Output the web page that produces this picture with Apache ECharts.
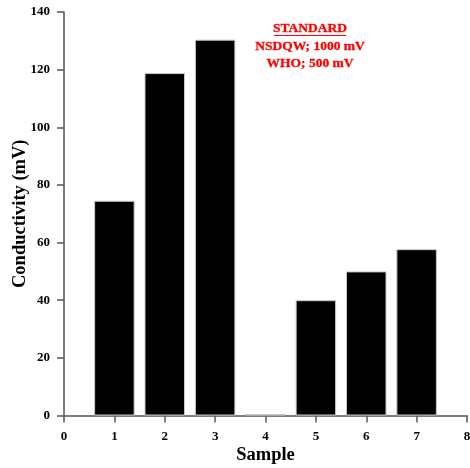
<!DOCTYPE html>
<html><head><meta charset="utf-8">
<script src="https://cdn.jsdelivr.net/npm/echarts@6/dist/echarts.min.js"></script>
<style>html,body{margin:0;padding:0;background:#fff}#c{width:470px;height:468px}</style>
</head><body><div id="c"></div>
<script>
const samples = [1, 2, 3, 4, 5, 6, 7];
const conductivity = [74.5, 118.8, 130.4, 0.5, 40.0, 50.0, 57.7];
const xTicks = [0, 1, 2, 3, 4, 5, 6, 7, 8];
const yTicks = [0, 20, 40, 60, 80, 100, 120, 140];
const noteLines = ['STANDARD', 'NSDQW; 1000 mV', 'WHO; 500 mV'];

const F = '"Liberation Serif","Times New Roman",serif';
const chart = echarts.init(document.getElementById('c'));
chart.setOption({
  animation: false,
  grid: { left: 64, right: 3, top: 12, bottom: 52.5, containLabel: false, outerBoundsMode: 'none' },
  xAxis: {
    type: 'value', min: xTicks[0], max: xTicks[xTicks.length - 1], interval: 1,
    name: 'Sample', nameLocation: 'middle', nameGap: 30, nameMoveOverlap: false,
    nameTextStyle: { fontFamily: F, fontWeight: 'bold', fontSize: 18.5, color: '#000' },
    axisLine: { onZero: false, lineStyle: { color: '#555', width: 1.5 } },
    axisTick: { show: true, inside: false, length: 7, lineStyle: { color: '#555', width: 1.5 } },
    axisLabel: { fontFamily: F, fontWeight: 'bold', fontSize: 13, color: '#000', margin: 15 },
    splitLine: { show: false }
  },
  yAxis: {
    type: 'value', min: yTicks[0], max: yTicks[yTicks.length - 1], interval: 20,
    name: 'Conductivity (mV)', nameLocation: 'middle', nameGap: 34, nameRotate: 90, nameMoveOverlap: false,
    nameTextStyle: { fontFamily: F, fontWeight: 'bold', fontSize: 18.5, color: '#000' },
    axisLine: { show: true, onZero: false, lineStyle: { color: '#555', width: 1.5 } },
    axisTick: { show: true, inside: false, length: 7, lineStyle: { color: '#555', width: 1.5 } },
    axisLabel: { fontFamily: F, fontWeight: 'bold', fontSize: 13, color: '#000', margin: 14 },
    splitLine: { show: false }
  },
  series: [{
    type: 'bar',
    data: samples.map((s, i) => [s, conductivity[i]]),
    barWidth: 40.5,
    barMinHeight: 1,
    itemStyle: { color: '#000', borderColor: '#c8c8c8', borderWidth: 1 }
  }],
  graphic: [
    { type: 'text', z: 10,
      style: { x: 310, y: 29, text: noteLines[0], fill: '#ff0000', stroke: '#ff0000', lineWidth: 0.3, font: 'bold 13.5px ' + F, textAlign: 'center', textVerticalAlign: 'middle' } },
    { type: 'line', z: 10, shape: { x1: 274, y1: 35.5, x2: 346, y2: 35.5 }, style: { stroke: '#ff0000', lineWidth: 1 } },
    { type: 'text', z: 10,
      style: { x: 310, y: 47, text: noteLines[1], fill: '#ff0000', stroke: '#ff0000', lineWidth: 0.3, font: 'bold 13.5px ' + F, textAlign: 'center', textVerticalAlign: 'middle' } },
    { type: 'text', z: 10,
      style: { x: 310, y: 64, text: noteLines[2], fill: '#ff0000', stroke: '#ff0000', lineWidth: 0.3, font: 'bold 13.5px ' + F, textAlign: 'center', textVerticalAlign: 'middle' } }
  ]
});
</script></body></html>
